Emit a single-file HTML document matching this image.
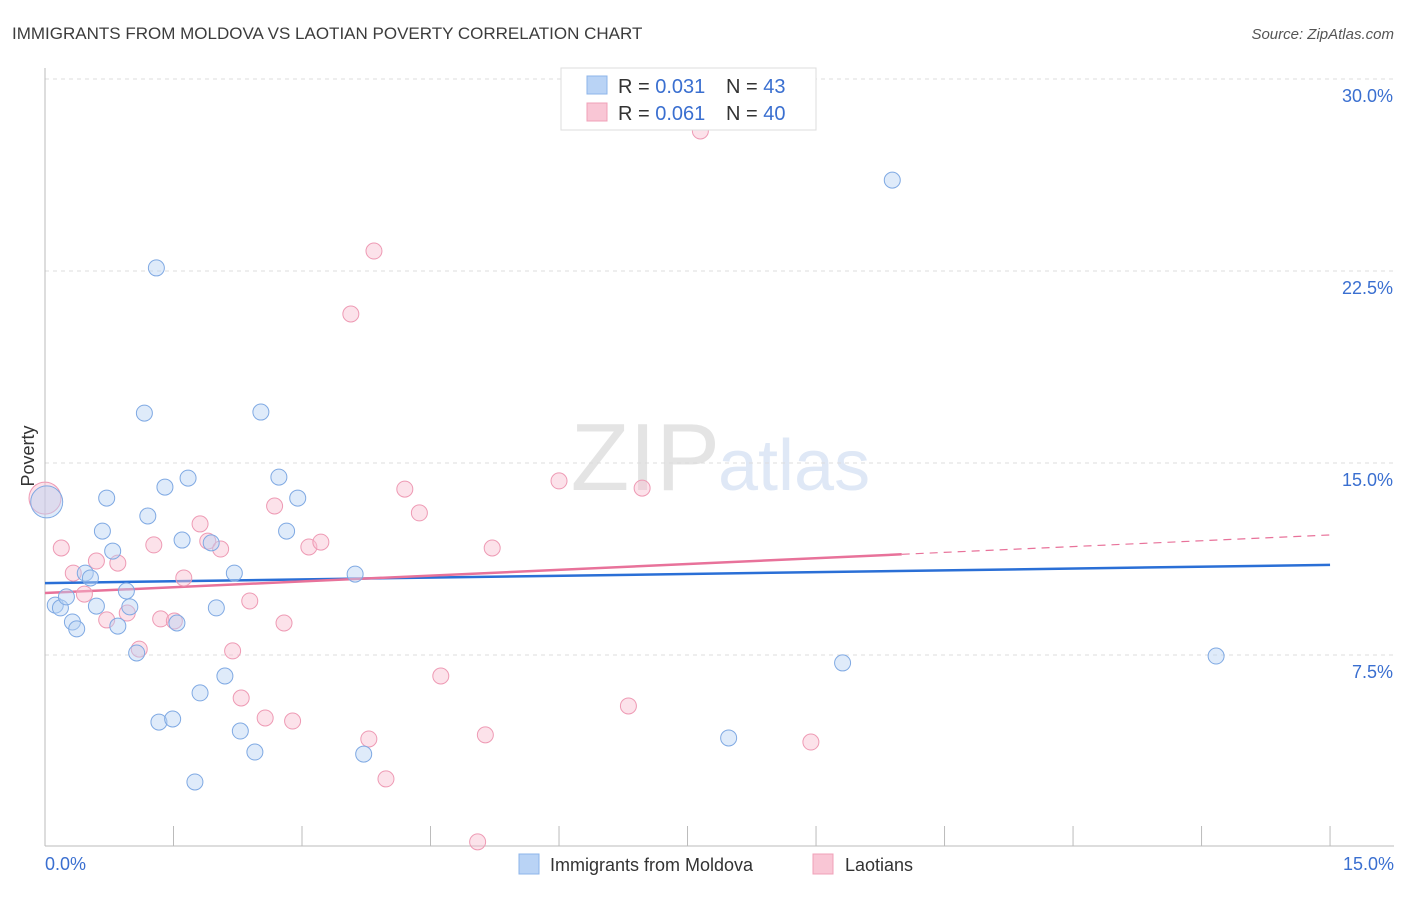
<!DOCTYPE html>
<html><head><meta charset="utf-8"><style>
body{margin:0;background:#fff;font-family:"Liberation Sans",sans-serif;}
svg text{font-family:"Liberation Sans",sans-serif;}
</style></head><body>
<svg width="1406" height="892" viewBox="0 0 1406 892">
<text x="12" y="39" font-size="17" fill="#3c3c3c">IMMIGRANTS FROM MOLDOVA VS LAOTIAN POVERTY CORRELATION CHART</text>
<text x="1394" y="39" font-size="15" fill="#555" font-style="italic" text-anchor="end">Source: ZipAtlas.com</text>
<text x="720" y="490" font-size="96" fill="#e4e4e4" text-anchor="end" font-family="Liberation Serif">ZIP</text>
<text x="718" y="490" font-size="72" fill="#dfe8f6">atlas</text>
<g id="grid"></g><g id="axes"></g><g id="trend"></g><g id="pts"></g>
<text transform="translate(34,456) rotate(-90)" font-size="18" fill="#333" text-anchor="middle">Poverty</text>
<text x="45" y="870" font-size="18" fill="#3a6fd0">0.0%</text>
<text x="1394" y="870" font-size="18" fill="#3a6fd0" text-anchor="end">15.0%</text>
<g>
<rect x="561" y="68" width="255" height="62" fill="#fff" stroke="#ddd"/>
<rect x="587" y="76" width="20" height="18" fill="#b9d3f5" stroke="#8db4ea"/>
<rect x="587" y="103" width="20" height="18" fill="#f9c6d5" stroke="#f0a0b8"/>
<text x="618" y="93" font-size="20" fill="#333">R = <tspan fill="#3a6fd0">0.031</tspan></text>
<text x="726" y="93" font-size="20" fill="#333">N = <tspan fill="#3a6fd0">43</tspan></text>
<text x="618" y="120" font-size="20" fill="#333">R = <tspan fill="#3a6fd0">0.061</tspan></text>
<text x="726" y="120" font-size="20" fill="#333">N = <tspan fill="#3a6fd0">40</tspan></text>
</g>
<g>
<rect x="519" y="854" width="20" height="20" fill="#b9d3f5" stroke="#8db4ea"/>
<text x="550" y="871" font-size="18" fill="#333">Immigrants from Moldova</text>
<rect x="813" y="854" width="20" height="20" fill="#f9c6d5" stroke="#f0a0b8"/>
<text x="845" y="871" font-size="18" fill="#333">Laotians</text>
</g>
</svg>
<script>
const yTicks=[7.5,15,22.5,30];
const blueX=[0.02,0.12,0.18,0.25,0.32,0.37,0.47,0.53,0.60,0.67,0.72,0.79,0.85,0.95,0.99,1.07,1.16,1.20,1.30,1.33,1.40,1.49,1.54,1.60,1.67,1.75,1.81,1.94,2.00,2.10,2.21,2.28,2.45,2.52,2.73,2.82,2.95,3.62,3.72,7.98,9.31,9.89,13.67];
const blueY=[13.48,9.45,9.34,9.77,8.79,8.52,10.70,10.51,9.41,12.34,13.63,11.56,8.63,10.0,9.38,7.58,16.95,12.93,22.62,4.88,14.06,5.0,8.75,11.99,14.41,2.54,6.02,11.88,9.34,6.68,10.70,4.53,3.71,16.99,14.45,12.34,13.63,10.66,3.63,4.26,7.19,26.05,7.46];
const pinkX=[0.0,0.19,0.33,0.46,0.60,0.72,0.85,0.96,1.10,1.27,1.35,1.51,1.62,1.81,1.90,2.05,2.19,2.29,2.39,2.57,2.68,2.79,2.89,3.08,3.22,3.57,3.78,3.84,3.98,4.20,4.37,4.62,5.05,5.14,5.22,6.00,6.81,6.97,7.65,8.94];
const pinkY=[13.63,11.68,10.70,9.88,11.17,8.87,11.09,9.14,7.73,11.80,8.91,8.83,10.51,12.62,11.95,11.64,7.66,5.82,9.61,5.04,13.32,8.75,4.92,11.72,11.91,20.82,4.22,23.28,2.66,13.98,13.05,6.68,0.2,4.38,11.68,14.30,5.51,14.02,27.97,4.10];
const blueTrend=[10.31,11.02];
const pinkTrend=[9.92,12.19];
const pinkSolidEnd=10;
const NS="http://www.w3.org/2000/svg";
const X=v=>45+v*85.67, Y=v=>847-v*25.6;
function mk(p,t,a){const e=document.createElementNS(NS,t);for(const k in a)e.setAttribute(k,a[k]);document.getElementById(p).appendChild(e);return e;}
yTicks.forEach(t=>{
 const l=mk('grid','line',{x1:45,x2:1394,y1:Y(t),y2:Y(t),stroke:'#ddd','stroke-dasharray':'4,4'});
 
 
 const tx=mk('grid','text',{x:1393,y:Y(t)+23,'font-size':18,fill:'#3a6fd0','text-anchor':'end'});
 tx.textContent=t.toFixed(1)+'%';
 
 
});
mk('axes','line',{x1:45,x2:45,y1:68,y2:846,stroke:'#bbb'});
mk('axes','line',{x1:45,x2:1394,y1:846,y2:846,stroke:'#bbb'});
for(let i=0;i<=10;i++){const t=mk('axes','line',{x1:X(i*1.5),x2:X(i*1.5),y1:826,y2:846,stroke:'#bbb'});
 
 }
function pts(xs,ys,fill,stroke,name){xs.forEach((x,i)=>{const big=x<0.05;
 const c=mk('pts','circle',{cx:X(x),cy:Y(ys[i]),r:big?16:8,fill:fill,'fill-opacity':0.45,stroke:stroke,'stroke-width':1});
 
 });}
pts(pinkX,pinkY,'#f8bfd0','#ee9ab4','laotians-point');
pts(blueX,blueY,'#b9d3f5','#7fa9e3','moldova-point');
const b=mk('trend','line',{x1:X(0),y1:Y(blueTrend[0]),x2:X(15),y2:Y(blueTrend[1]),stroke:'#2a6fd6','stroke-width':2.5});


const pe=pinkTrend[0]+(pinkTrend[1]-pinkTrend[0])*pinkSolidEnd/15;
const p=mk('trend','line',{x1:X(0),y1:Y(pinkTrend[0]),x2:X(pinkSolidEnd),y2:Y(pe),stroke:'#e8729a','stroke-width':2.5});


const pd=mk('trend','line',{x1:X(pinkSolidEnd),y1:Y(pe),x2:X(15),y2:Y(pinkTrend[1]),stroke:'#e8729a','stroke-width':1.2,'stroke-dasharray':'8,6'});


</script>
</body></html>
